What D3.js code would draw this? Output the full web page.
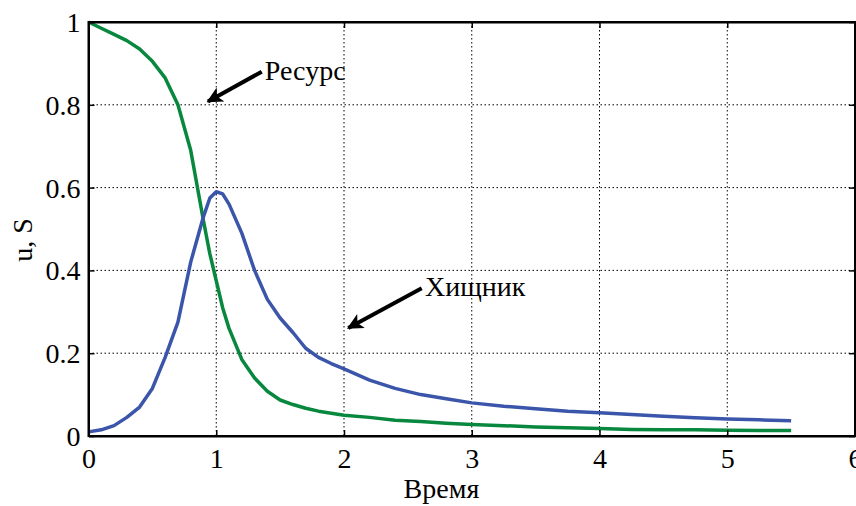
<!DOCTYPE html>
<html>
<head>
<meta charset="utf-8">
<script src="https://cdn.jsdelivr.net/npm/d3@7"></script>
<style>
  body { margin: 0; }
  svg text { font-family: Tinos !important; }
</style>
</head>
<body>
<script>
// time grid
const time = [0, 0.1, 0.2, 0.3, 0.4, 0.5, 0.6, 0.7, 0.8, 0.9, 0.95, 1.0, 1.05, 1.1, 1.2, 1.3, 1.4, 1.5,
  1.6, 1.7, 1.8, 1.9, 2.0, 2.2, 2.4, 2.6, 2.8, 3.0, 3.25, 3.5, 3.75, 4.0, 4.25, 4.5, 4.75, 5.0, 5.25, 5.5];

// Ресурс (S)
const resource = [1.0, 0.985, 0.97, 0.955, 0.935, 0.905, 0.865, 0.8, 0.69, 0.52, 0.44, 0.375, 0.31, 0.26,
  0.185, 0.14, 0.108, 0.087, 0.076, 0.067, 0.06, 0.055, 0.05, 0.045, 0.038, 0.035, 0.031, 0.028, 0.025,
  0.022, 0.02, 0.018, 0.016, 0.015, 0.015, 0.014, 0.013, 0.013];

// Хищник (u)
const predator = [0.01, 0.015, 0.025, 0.045, 0.07, 0.115, 0.19, 0.275, 0.42, 0.53, 0.575, 0.59, 0.585, 0.56,
  0.49, 0.4, 0.33, 0.285, 0.25, 0.212, 0.19, 0.175, 0.162, 0.135, 0.115, 0.1, 0.09, 0.08, 0.072,
  0.066, 0.06, 0.056, 0.052, 0.048, 0.044, 0.041, 0.039, 0.037];

const xTicks = [0, 1, 2, 3, 4, 5, 6];
const yTicks = [0, 0.2, 0.4, 0.6, 0.8, 1];

// annotations, in data units: [label, textX, textY, arrowFromX, arrowFromY, arrowToX, arrowToY]
const notes = [
  ['Ресурс', 1.38, 0.86, 1.356, 0.88, 0.935, 0.808],
  ['Хищник', 2.634, 0.339, 2.608, 0.357, 2.034, 0.261]
];

const width = 856, height = 506;
const margin = { top: 22, right: 1, bottom: 70, left: 88.5 };
const iw = width - margin.left - margin.right;
const ih = height - margin.top - margin.bottom;

const svg = d3.select('body').append('svg')
  .attr('width', width)
  .attr('height', height);

svg.append('defs').append('marker')
  .attr('id', 'head')
  .attr('viewBox', '0 0 10 10')
  .attr('refX', 9).attr('refY', 5)
  .attr('markerWidth', 5).attr('markerHeight', 4)
  .attr('markerUnits', 'strokeWidth')
  .attr('orient', 'auto')
  .append('path')
  .attr('d', 'M0,0 L10,5 L0,10 L2.5,5 Z')
  .attr('fill', '#000');

const g = svg.append('g').attr('transform', `translate(${margin.left},${margin.top})`);

const x = d3.scaleLinear().domain([0, 6]).range([0, iw]);
const y = d3.scaleLinear().domain([0, 1]).range([ih, 0]);

// grid
g.append('g').selectAll('line').data(xTicks.slice(1, -1)).join('line')
  .attr('x1', d => x(d)).attr('x2', d => x(d))
  .attr('y1', 0).attr('y2', ih)
  .attr('stroke', '#000').attr('stroke-width', 1).attr('stroke-dasharray', '1.5,2.5');
g.append('g').selectAll('line').data(yTicks.slice(1, -1)).join('line')
  .attr('x1', 0).attr('x2', iw)
  .attr('y1', d => y(d)).attr('y2', d => y(d))
  .attr('stroke', '#000').attr('stroke-width', 1).attr('stroke-dasharray', '1.5,2.5');

// curves
const line = d3.line().x((d, i) => x(time[i])).y(d => y(d));
g.append('path').datum(resource)
  .attr('d', line).attr('fill', 'none')
  .attr('stroke', '#08883f').attr('stroke-width', 3.5).attr('stroke-linejoin', 'round');
g.append('path').datum(predator)
  .attr('d', line).attr('fill', 'none')
  .attr('stroke', '#3a55a9').attr('stroke-width', 3.5).attr('stroke-linejoin', 'round');

// axes (ticks inward on all sides)
const fmt = d => String(d);
const xAxis = g.append('g').attr('transform', `translate(0,${ih})`)
  .call(d3.axisBottom(x).tickValues(xTicks).tickFormat(fmt).tickSizeInner(-6).tickSizeOuter(0).tickPadding(12));
const yAxis = g.append('g')
  .call(d3.axisLeft(y).tickValues(yTicks).tickFormat(fmt).tickSizeInner(-6).tickSizeOuter(0).tickPadding(8));
g.append('g')
  .call(d3.axisTop(x).tickValues(xTicks).tickFormat('').tickSizeInner(-6).tickSizeOuter(0));
g.append('g').attr('transform', `translate(${iw},0)`)
  .call(d3.axisRight(y).tickValues(yTicks).tickFormat('').tickSizeInner(-6).tickSizeOuter(0));

g.selectAll('g').attr('font-family', null).attr('font-size', 28);
g.selectAll('.domain').attr('stroke', '#000').attr('stroke-width', 2);
g.selectAll('.tick line').attr('stroke', '#000').attr('stroke-width', 1.5);
g.selectAll('.tick text').attr('font-size', 28).attr('fill', '#000');
xAxis.selectAll('.tick text').attr('dy', '0.71em');
yAxis.selectAll('.tick text').attr('dy', '0.34em');

// frame
g.append('rect').attr('width', iw).attr('height', ih)
  .attr('fill', 'none').attr('stroke', '#000').attr('stroke-width', 2);

// labels
svg.append('text')
  .attr('x', margin.left + iw * 0.4605).attr('y', 498)
  .attr('text-anchor', 'middle')
  .attr('font-size', 28)
  .text('Время');
svg.append('text')
  .attr('transform', `translate(32,${margin.top + ih / 2 + 11}) rotate(-90)`)
  .attr('text-anchor', 'middle')
  .attr('font-size', 28)
  .text('u, S');

// annotations
const ann = g.append('g');
notes.forEach(n => {
  ann.append('line')
    .attr('x1', x(n[3])).attr('y1', y(n[4]))
    .attr('x2', x(n[5])).attr('y2', y(n[6]))
    .attr('stroke', '#000').attr('stroke-width', 4)
    .attr('marker-end', 'url(#head)');
  ann.append('text')
    .attr('x', x(n[1])).attr('y', y(n[2]))
    .attr('font-size', 28)
    .text(n[0]);
});
</script>
</body>
</html>
